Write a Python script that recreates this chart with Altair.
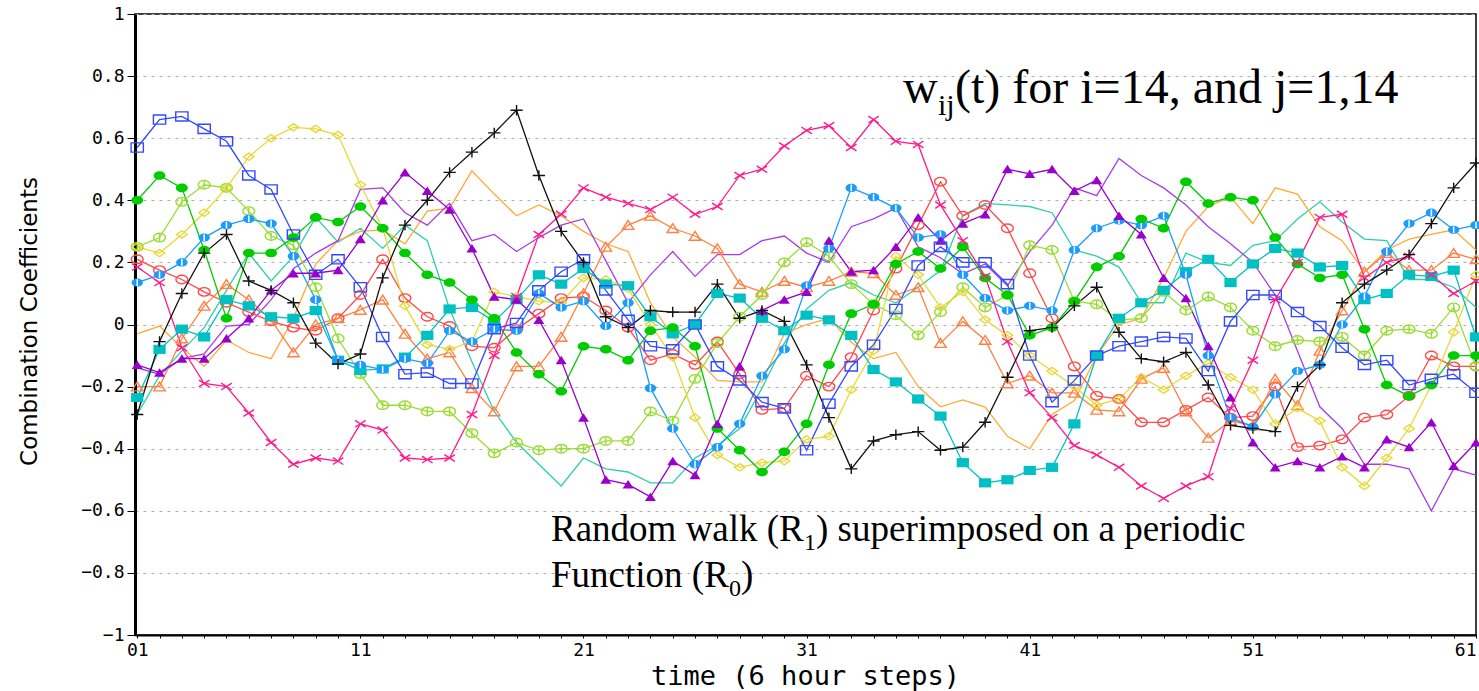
import altair as alt
import pandas as pd

# time steps
t_steps = list(range(1, 62))

# 14 series of combination coefficients w_ij(t)
blue_sq = [0.57, 0.66, 0.67, 0.63, 0.59, 0.48, 0.435, 0.29, 0.16, 0.21,
           0.12, -0.04, -0.16, -0.155, -0.19, -0.19, -0.015, 0.005, 0.11, 0.17,
           0.21, 0.11, 0.015, -0.07, -0.08, 0.0, -0.135, -0.18, -0.25, -0.27,
           -0.405, -0.255, -0.135, -0.065, 0.05, 0.19, 0.25, 0.2, 0.2, 0.13,
           -0.1, -0.25, -0.18, -0.1, -0.07, -0.055, -0.04, -0.045, -0.15, 0.01,
           0.095, 0.095, 0.04, -0.005, -0.075, -0.13, -0.115, -0.195, -0.175, -0.16, -0.22]
yellow_dm = [0.25, 0.23, 0.29, 0.36, 0.44, 0.54, 0.60, 0.635, 0.63, 0.61,
             0.45, 0.31, 0.06, -0.065, -0.08, -0.055, 0.105, 0.09, 0.075, 0.07,
             0.15, 0.145, 0.115, 0.0, -0.105, -0.30, -0.42, -0.46, -0.445, -0.44,
             -0.37, -0.36, -0.21, -0.085, 0.22, 0.16, 0.055, 0.105, 0.015, -0.035,
             -0.1, -0.15, -0.2, -0.26, -0.24, -0.17, -0.21, -0.165, -0.125, -0.17,
             -0.21, -0.32, -0.27, -0.31, -0.46, -0.52, -0.43, -0.335, -0.195, -0.025, 0.16]
black_pl = [-0.29, -0.055, 0.10, 0.23, 0.29, 0.14, 0.11, 0.07, -0.06, -0.127,
            -0.095, 0.15, 0.32, 0.40, 0.49, 0.555, 0.617, 0.69, 0.48, 0.30,
            0.2, 0.025, -0.01, 0.045, 0.04, 0.04, 0.13, 0.02, 0.045, 0.01,
            -0.13, -0.30, -0.465, -0.375, -0.355, -0.345, -0.405, -0.395, -0.315, -0.17,
            -0.02, -0.01, 0.06, 0.12, -0.025, -0.11, -0.12, -0.09, -0.195, -0.325,
            -0.335, -0.345, -0.2, -0.13, 0.07, 0.13, 0.175, 0.225, 0.325, 0.44, 0.52]
pink_x = [0.185, 0.135, -0.075, -0.19, -0.2, -0.285, -0.38, -0.45, -0.43, -0.44,
          -0.32, -0.34, -0.43, -0.435, -0.43, -0.29, -0.10, 0.09, 0.29, 0.355,
          0.44, 0.41, 0.39, 0.37, 0.41, 0.355, 0.38, 0.48, 0.50, 0.575,
          0.625, 0.64, 0.57, 0.66, 0.59, 0.58, 0.385, 0.27, 0.155, -0.055,
          -0.22, -0.3, -0.39, -0.42, -0.46, -0.52, -0.56, -0.52, -0.49, -0.27,
          -0.115, 0.08, 0.2, 0.345, 0.355, 0.15, 0.2, 0.22, 0.16, 0.1, 0.14]
green_fc = [0.40, 0.48, 0.44, 0.24, 0.02, 0.23, 0.23, 0.28, 0.345, 0.33,
            0.38, 0.31, 0.23, 0.16, 0.135, 0.08, 0.02, -0.09, -0.16, -0.215,
            -0.07, -0.08, -0.115, -0.02, -0.01, -0.07, -0.335, -0.405, -0.475, -0.41,
            -0.32, -0.13, 0.035, 0.065, 0.195, 0.235, 0.18, 0.25, 0.15, 0.095,
            -0.035, -0.01, 0.075, 0.185, 0.22, 0.34, 0.31, 0.46, 0.39, 0.41,
            0.40, 0.28, 0.195, 0.15, 0.16, -0.015, -0.195, -0.23, -0.195, -0.1, -0.1]
ygreen_oc = [0.25, 0.28, 0.395, 0.45, 0.44, 0.365, 0.285, 0.255, 0.12, -0.045,
             -0.16, -0.26, -0.26, -0.28, -0.28, -0.35, -0.415, -0.38, -0.405, -0.40,
             -0.4, -0.375, -0.375, -0.28, -0.31, -0.175, -0.06, 0.025, 0.095, 0.20,
             0.265, 0.22, 0.13, 0.065, 0.03, -0.035, 0.04, 0.12, 0.055, 0.095,
             0.255, 0.24, 0.075, 0.065, 0.015, 0.02, 0.105, 0.045, 0.09, 0.055,
             -0.02, -0.07, -0.05, -0.055, -0.04, -0.1, -0.02, -0.015, -0.03, 0.055, -0.135]
cyan_sq = [-0.235, -0.08, -0.015, -0.04, 0.08, 0.06, 0.025, 0.02, 0.045, -0.115,
           -0.148, -0.143, -0.105, -0.035, 0.05, 0.055, 0.01, 0.08, 0.16, 0.13,
           0.18, 0.13, 0.125, 0.025, -0.03, 0.0, 0.1, 0.085, 0.02, -0.02,
           0.03, 0.015, -0.035, -0.145, -0.185, -0.24, -0.295, -0.445, -0.51, -0.50,
           -0.47, -0.46, -0.32, -0.10, 0.02, 0.07, 0.11, 0.17, 0.21, 0.135,
           0.195, 0.245, 0.23, 0.185, 0.19, 0.08, 0.1, 0.16, 0.155, 0.175, -0.04]
sky_fc = [0.135, 0.16, 0.2, 0.28, 0.32, 0.34, 0.325, 0.22, 0.08, -0.115,
          -0.13, -0.145, -0.11, -0.125, -0.02, -0.055, -0.015, -0.02, 0.10, 0.055,
          0.075, -0.005, 0.07, -0.205, -0.335, -0.45, -0.395, -0.32, -0.165, -0.08,
          0.125, 0.245, 0.44, 0.41, 0.375, 0.28, 0.29, 0.16, 0.085, 0.045,
          0.06, 0.045, 0.24, 0.31, 0.335, 0.32, 0.35, 0.16, -0.10, -0.30,
          -0.33, -0.225, -0.15, -0.13, 0.0, 0.09, 0.235, 0.325, 0.36, 0.305, 0.32]
purple_tr = [-0.13, -0.155, -0.11, -0.11, -0.045, 0.02, 0.11, 0.165, 0.165, 0.175,
             0.275, 0.40, 0.49, 0.43, 0.37, 0.245, 0.09, 0.08, 0.015, -0.115,
             -0.3, -0.5, -0.515, -0.555, -0.44, -0.485, -0.32, -0.135, 0.045, 0.08,
             0.105, 0.27, 0.17, 0.175, 0.25, 0.345, 0.27, 0.325, 0.355, 0.50,
             0.485, 0.5, 0.43, 0.465, 0.35, 0.29, 0.15, 0.085, -0.07, -0.235,
             -0.38, -0.46, -0.44, -0.46, -0.425, -0.46, -0.37, -0.395, -0.315, -0.455, -0.38]
orange_tr = [-0.2, -0.2, -0.045, 0.06, 0.13, 0.08, 0.015, -0.09, 0.0, 0.02,
             0.047, 0.08, -0.03, -0.11, -0.09, -0.205, -0.28, -0.135, -0.135, -0.04,
             0.1, 0.25, 0.32, 0.35, 0.31, 0.285, 0.245, 0.13, 0.105, 0.14,
             0.12, 0.14, 0.17, 0.165, 0.095, 0.12, -0.06, 0.01, -0.05, -0.19,
             -0.165, -0.22, -0.22, -0.275, -0.28, -0.175, -0.14, -0.28, -0.365, -0.31,
             -0.325, -0.175, -0.26, -0.085, 0.045, 0.17, 0.23, 0.175, 0.175, 0.23, 0.21]
red_oc = [0.21, 0.175, 0.145, 0.105, 0.07, 0.04, 0.01, -0.01, -0.02, 0.02,
          0.095, 0.21, 0.085, 0.025, -0.005, -0.07, -0.075, -0.015, 0.035, 0.085,
          0.09, 0.045, -0.01, -0.115, -0.095, -0.13, -0.055, -0.16, -0.275, -0.27,
          -0.165, -0.2, -0.105, 0.045, 0.18, 0.32, 0.46, 0.35, 0.385, 0.31,
          0.165, 0.02, -0.135, -0.23, -0.24, -0.315, -0.315, -0.275, -0.235, -0.3,
          -0.295, -0.2, -0.395, -0.39, -0.37, -0.3, -0.29, -0.23, -0.1, -0.135, -0.135]
orange_ln = [-0.03, -0.005, -0.075, -0.135, -0.05, -0.09, -0.11, 0.02, 0.195, 0.27,
             0.3, 0.305, 0.26, 0.365, 0.375, 0.495, 0.42, 0.35, 0.385, 0.35,
             0.3, 0.26, 0.235, 0.07, -0.04, -0.105, -0.18, -0.185, -0.185, -0.03,
             0.0, 0.02, -0.057, -0.11, -0.09, -0.2, -0.265, -0.243, -0.266, -0.36,
             -0.40, -0.29, -0.245, -0.10, 0.0, 0.02, 0.15, 0.3, 0.38, 0.41,
             0.325, 0.44, 0.42, 0.315, 0.27, 0.17, 0.24, 0.275, 0.29, 0.305, 0.24]
teal_ln = [-0.29, -0.165, -0.085, -0.01, 0.11, 0.23, 0.14, 0.22, 0.345, 0.265,
           0.31, 0.245, 0.32, 0.27, 0.05, -0.12, -0.28, -0.38, -0.45, -0.52,
           -0.43, -0.465, -0.475, -0.51, -0.51, -0.43, -0.39, -0.335, -0.205, -0.06,
           0.05, 0.11, 0.135, 0.095, 0.07, 0.12, 0.174, 0.35, 0.39, 0.385,
           0.38, 0.36, 0.24, 0.22, 0.185, 0.07, 0.07, 0.23, 0.2, 0.19,
           0.255, 0.27, 0.34, 0.395, 0.33, 0.275, 0.27, 0.145, 0.145, 0.12, 0.055]
violet_ln = [-0.14, -0.16, -0.11, -0.095, -0.005, 0.0, 0.08, 0.18, 0.23, 0.27,
             0.435, 0.44, 0.36, 0.32, 0.39, 0.27, 0.29, 0.235, 0.28, 0.32,
             0.34, 0.205, 0.07, 0.16, 0.235, 0.155, 0.225, 0.225, 0.27, 0.285,
             0.23, 0.2, 0.315, 0.34, 0.375, 0.25, 0.215, 0.163, 0.195, 0.125,
             0.235, 0.32, 0.44, 0.415, 0.535, 0.48, 0.44, 0.385, 0.315, 0.26,
             0.2, 0.095, -0.085, -0.265, -0.335, -0.45, -0.45, -0.465, -0.6, -0.465, -0.485]

y_ticks = [-1, -0.8, -0.6, -0.4, -0.2, 0, 0.2, 0.4, 0.6, 0.8, 1]
x_tick_labels = {1: "01", 11: "11", 21: "21", 31: "31", 41: "41", 51: "51", 61: "61"}

ELL = "M-1,0A1,0.72,0,1,1,1,0A1,0.72,0,1,1,-1,0Z"
RECT = "M-1,-0.75L1,-0.75L1,0.75L-1,0.75Z"
DIAM = "M0,-0.7L1,0L0,0.7L-1,0Z"
TRI = "M0,-0.8L1,0.75L-1,0.75Z"
PLUS = "M-1,0L1,0M0,-0.85L0,0.85"
XSYM = "M-1,-0.65L1,0.65M-1,0.65L1,-0.65"
BAR = "M0,-0.6L0,0.6"

# name, values, color, marker path, filled, marker size
series = [
    ("teal", teal_ln, "#2ECFA8", None, False, 0),
    ("orange line", orange_ln, "#FFAA33", None, False, 0),
    ("violet", violet_ln, "#A63DE8", None, False, 0),
    ("red", red_oc, "#FF4A4A", ELL, False, 140),
    ("orange tri", orange_tr, "#FF8040", TRI, False, 130),
    ("ygreen", ygreen_oc, "#99DD33", ELL, False, 140),
    ("yellow", yellow_dm, "#E8D838", DIAM, False, 110),
    ("cyan", cyan_sq, "#00C0C4", RECT, True, 150),
    ("sky", sky_fc, "#1A9CFF", ELL, True, 130),
    ("green", green_fc, "#00CC00", ELL, True, 140),
    ("purple", purple_tr, "#9900CC", TRI, True, 120),
    ("blue", blue_sq, "#3348FF", RECT, False, 150),
    ("pink", pink_x, "#FF1A8C", XSYM, False, 110),
    ("black", black_pl, "#111111", PLUS, False, 150),
]

rows = []
for name, vals, *_ in series:
    for t, v in zip(t_steps, vals):
        rows.append({"s": name, "t": t, "v": v})
df = pd.DataFrame(rows)

label_map = " : ".join(f"datum.value == {k} ? '{v}'" for k, v in x_tick_labels.items())
label_expr = label_map + " : ''"

X = alt.X("t:Q",
          scale=alt.Scale(domain=[0.9, 61], nice=False, zero=False),
          axis=alt.Axis(values=t_steps, labelExpr=label_expr, title="time (6 hour steps)",
                        grid=False, tickSize=3, tickColor="black", domainColor="black",
                        domainWidth=2, labelFont="DejaVu Sans Mono", labelFontSize=18,
                        labelColor="black", labelPadding=3, labelOverlap=False, labelFlush=False,
                        labelAlign=alt.ExprRef(expr="datum.value == 61 ? 'right' : 'center'"),
                        titleFont="DejaVu Sans Mono", titleFontSize=27, titleFontWeight="normal",
                        titleColor="black", titleX=670, titleY=49, titleAlign="center",
                        titleBaseline="alphabetic"))
Y = alt.Y("v:Q",
          scale=alt.Scale(domain=[-1, 1], nice=False, zero=False),
          axis=alt.Axis(values=y_ticks, format="~g", title="Combination Coefficients",
                        grid=True, gridDash=[3, 5], gridColor="#b0b0b0", gridWidth=1,
                        tickSize=8, tickColor="black", domainColor="black", domainWidth=3,
                        labelFont="DejaVu Sans Mono", labelFontSize=18, labelColor="black",
                        labelPadding=3,
                        titleFont="DejaVu Sans", titleFontSize=23, titleFontWeight="normal",
                        titleColor="black", titleAngle=270, titleX=-106, titleY=307,
                        titleAlign="center", titleBaseline="middle"))

base = alt.Chart(df)
layers = []
for name, vals, color, shape, filled, size in series:
    sub = base.transform_filter(alt.datum.s == name)
    layers.append(sub.mark_line(color=color, strokeWidth=1.3).encode(x=X, y=Y))
for name, vals, color, shape, filled, size in series:
    if shape is None:
        continue
    sub = base.transform_filter(alt.datum.s == name)
    if filled:
        layers.append(sub.mark_point(shape=shape, filled=True, color=color, size=size,
                                     opacity=1).encode(x=X, y=Y))
        if name == "sky":
            layers.append(sub.mark_point(shape=BAR, filled=False, color="white", size=size,
                                         strokeWidth=1.5, opacity=1).encode(x=X, y=Y))
    else:
        layers.append(sub.mark_point(shape=shape, filled=False, color=color, size=size,
                                     strokeWidth=1.4, opacity=1).encode(x=X, y=Y))
        if name == "ygreen":
            layers.append(sub.mark_point(shape=BAR, filled=False, color=color, size=size,
                                         strokeWidth=1.4, opacity=1).encode(x=X, y=Y))

# annotation texts (pixel positions relative to plot area origin at (135, 14))
one = alt.Data(values=[{}])
def txt(s, x, y, size):
    return alt.Chart(one).mark_text(text=s, font="Liberation Serif", fontSize=size,
                                    align="left", baseline="alphabetic", color="black"
                                    ).encode(x=alt.value(x - 135), y=alt.value(y - 14))

layers += [
    txt("w", 903, 103, 48),
    txt("ij", 938, 115, 30),
    txt("(t) for i=14, and j=1,14", 955, 103, 48),
    txt("Random walk (R", 551, 541, 37),
    txt("1", 804, 550, 24),
    txt(") superimposed on a periodic", 816, 541, 37),
    txt("Function (R", 551, 587, 37),
    txt("0", 729, 596, 24),
    txt(")", 741, 587, 37),
]

chart = alt.layer(*layers).properties(
    width=1341, height=621,
    padding={"left": 135, "top": 14, "right": 3, "bottom": 56},
    autosize=alt.AutoSizeParams(type="none"),
    background="white",
).configure_view(stroke="black", strokeWidth=1.5)

chart.save("out.html", embed_options={"renderer": "svg", "actions": False})
